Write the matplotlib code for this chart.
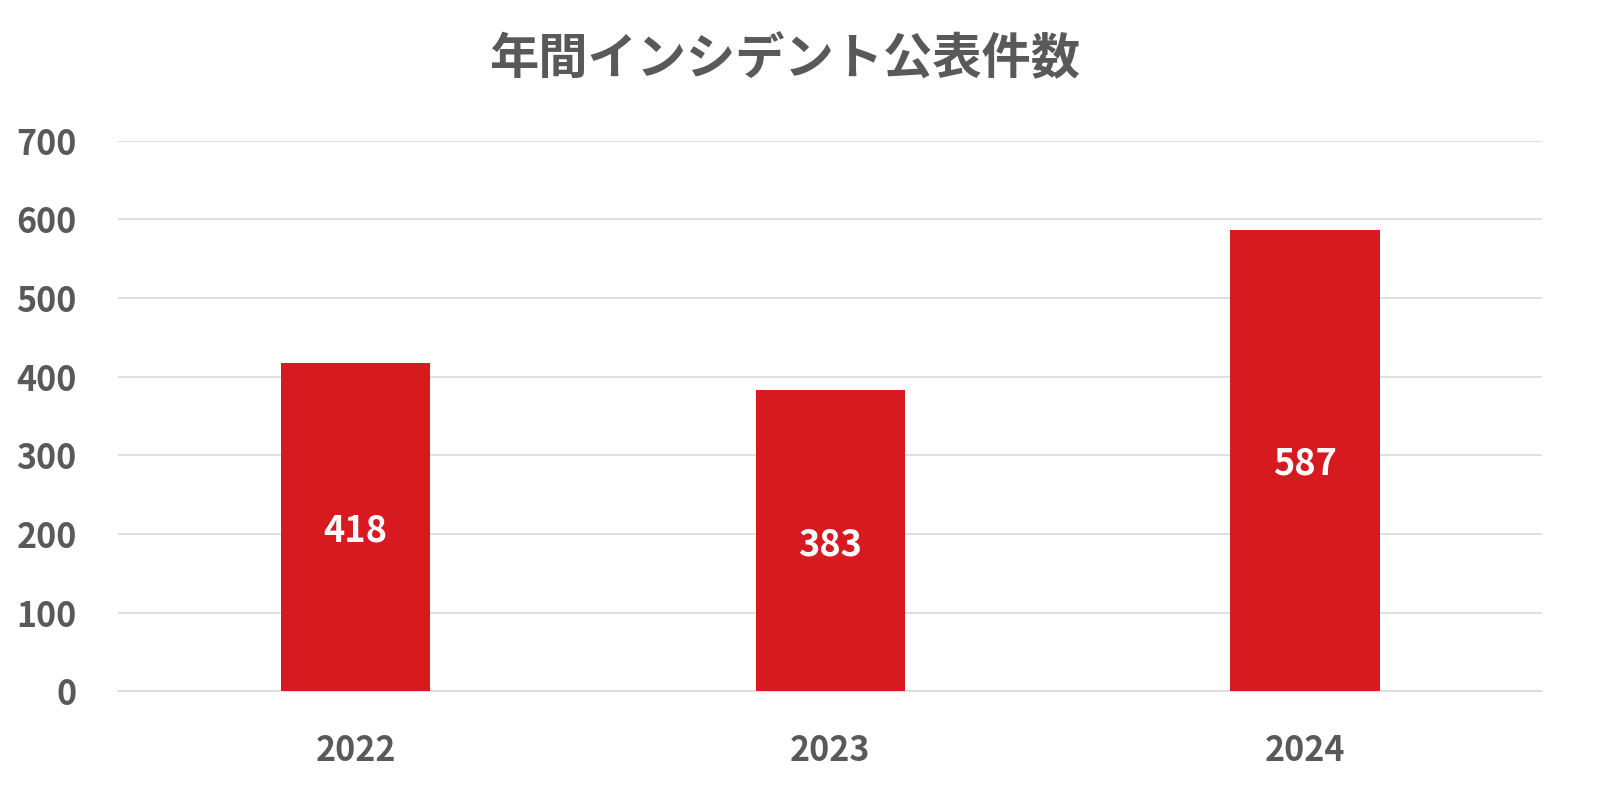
import matplotlib
matplotlib.use("Agg")
import matplotlib.pyplot as plt

plt.rcParams['font.family'] = ['Noto Sans CJK JP', 'DejaVu Sans']

# Data #
years = ['2022', '2023', '2024']
incidents = [418, 383, 587]
title = '年間インシデント公表件数'

barColor = '#D71920'
textColor = '#595959'
gridColor = '#D9D9D9'

fig = plt.figure(figsize=(16, 8), dpi=100)
ax = fig.add_axes([0.074, 0.136, 0.89, 0.688])

bars = ax.bar(years, incidents, width=0.315, color=barColor, zorder=3)
for b, v in zip(bars, incidents):
    ax.text(b.get_x() + b.get_width() / 2, v / 2, str(v), ha='center', va='center_baseline',
            color='white', fontsize=26, fontweight='bold', zorder=4)

ax.set_xlim(-0.5, 2.5)
ax.set_ylim(0, 700)
ax.set_yticks(range(0, 701, 100))
ax.grid(axis='y', color=gridColor, linewidth=1.2, zorder=0)
for s in ['top', 'right', 'left']:
    ax.spines[s].set_visible(False)
ax.spines['bottom'].set_color(gridColor)
ax.spines['bottom'].set_linewidth(1.2)
ax.tick_params(length=0, labelsize=24.5, labelcolor=textColor)
ax.tick_params(axis='x', pad=30)
ax.tick_params(axis='y', pad=30)
for lbl in ax.get_xticklabels() + ax.get_yticklabels():
    lbl.set_fontweight('bold')

fig.text(785 / 1600, 1 - 60 / 800, title, ha='center', va='center',
         fontsize=35.5, fontweight='bold', color=textColor)

plt.savefig('out.png', dpi=100)
